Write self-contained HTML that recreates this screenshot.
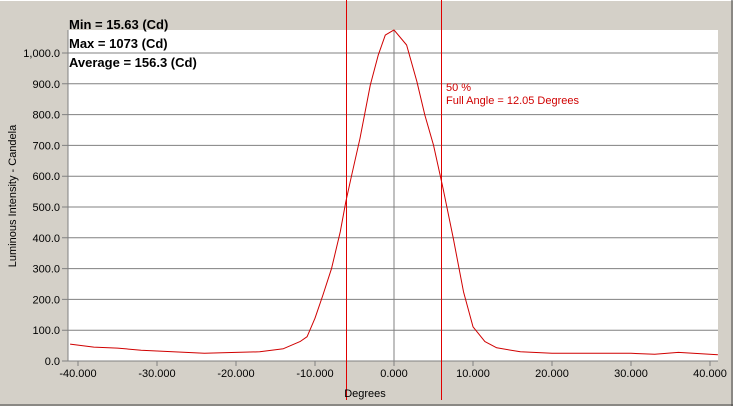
<!DOCTYPE html>
<html><head><meta charset="utf-8"><style>
html,body{margin:0;padding:0;background:#d4d0c8;width:733px;height:406px;overflow:hidden;font-family:"Liberation Sans",sans-serif}
</style></head><body>
<svg id="c" width="733" height="406" style="position:absolute;left:0;top:0">
<rect x="0" y="0" width="733" height="406" fill="#d4d0c8"/>
<line x1="0" y1="0.5" x2="733" y2="0.5" stroke="#fff"/>
<line x1="0" y1="405" x2="733" y2="405" stroke="#404040"/>
<line x1="732" y1="0" x2="732" y2="406" stroke="#404040"/>
<rect x="68" y="30" width="650" height="331" fill="#fff"/>
<g id="grid"></g><g id="ticks"></g>
<path id="curve" fill="none" stroke="#d00000" stroke-width="1" stroke-linejoin="round"/>
<g id="marks"></g>
<text x="69" y="29" font-size="13" font-weight="bold">Min = 15.63 (Cd)</text>
<text x="69" y="48" font-size="13" font-weight="bold">Max = 1073 (Cd)</text>
<text x="69" y="67" font-size="13" font-weight="bold">Average = 156.3 (Cd)</text>
<text x="446" y="91" font-size="11" fill="#d00000">50 %</text>
<text x="446" y="104" font-size="11" fill="#d00000">Full Angle = 12.05 Degrees</text>
<text x="365" y="397" font-size="11" text-anchor="middle">Degrees</text>
<text transform="translate(16,196) rotate(-90)" font-size="11" text-anchor="middle">Luminous Intensity - Candela</text>
</svg>
<script>
const degrees=[-41,-38,-35,-32,-28,-24,-20,-17,-14,-11.9,-11,-10,-9,-7.9,-6.8,-6.1,-5.4,-4.3,-3,-2,-1.1,0,1.6,2.9,3.9,5,6.2,7.5,8.8,10,11.5,13,16,20,25,30,33,36,41];
const candela=[55,45,42,35,30,25,28,30,40,63,79,139,214,301,420,517,598,723,896,993,1058,1075,1026,907,799,701,561,398,225,111,63,43,30,25,25,25,22,28,20];
const yTicks=[0,100,200,300,400,500,600,700,800,900,1000];
const yTickLabels=["0.0","100.0","200.0","300.0","400.0","500.0","600.0","700.0","800.0","900.0","1,000.0"];
const xTicks=[-40,-30,-20,-10,0,10,20,30,40];
const xTickLabels=["-40.000","-30.000","-20.000","-10.000","0.000","10.000","20.000","30.000","40.000"];
const halfAngles=[-6.05,6.0];
const NS="http://www.w3.org/2000/svg";
const X=d=>394+d*7.9, Y=v=>361-v*0.308;
function mk(tag,attrs,parent){const e=document.createElementNS(NS,tag);for(const k in attrs)e.setAttribute(k,attrs[k]);document.getElementById(parent).appendChild(e);return e;}
yTicks.forEach((v,i)=>{
  const g=mk('line',{x1:62,x2:718,y1:Y(v),y2:Y(v),stroke:'#808080'},'grid');
  
  
  const t=mk('text',{x:60,y:Y(v)+4,'font-size':11,'text-anchor':'end'},'ticks');
  t.textContent=yTickLabels[i];
  
  
});
xTicks.forEach((d,i)=>{
  const l=mk('line',{x1:X(d),x2:X(d),y1:361,y2:366,stroke:'#808080'},'ticks');
  
  
  const t=mk('text',{x:X(d),y:377,'font-size':11,'text-anchor':'middle'},'ticks');
  t.textContent=xTickLabels[i];
  
  
});
const z=mk('line',{x1:X(0),x2:X(0),y1:30,y2:361,stroke:'#808080'},'grid');


const ax=mk('line',{x1:68,x2:68,y1:30,y2:361,stroke:'#808080'},'grid');


document.getElementById('curve').setAttribute('d',degrees.map((d,i)=>(i?'L':'M')+X(d).toFixed(1)+','+Y(candela[i]).toFixed(1)).join(' '));
halfAngles.forEach(a=>{
  const m=mk('rect',{x:Math.round(X(a)),y:0,width:1,height:400,fill:'#e00000'},'marks');
  
  
});
</script>
</body></html>
